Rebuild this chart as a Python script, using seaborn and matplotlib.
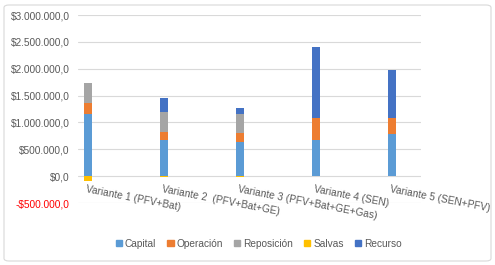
import matplotlib
matplotlib.use("Agg")
import matplotlib.pyplot as plt
import seaborn as sns
import numpy as np
import pandas as pd
from matplotlib.patches import Patch, FancyBboxPatch

categories = ["Variante 1 (PFV+Bat)", "Variante 2  (PFV+Bat+GE)", "Variante 3 (PFV+Bat+GE+Gas)",
              "Variante 4 (SEN)", "Variante 5 (SEN+PFV)"]
capital = [1160000, 680000, 640000, 670000, 790000]
operacion = [200000, 150000, 160000, 420000, 290000]
reposicion = [370000, 370000, 350000, 0, 0]
salvas = [-90000, -20000, -20000, 0, 0]
recurso = [0, 250000, 120000, 1310000, 890000]
yticks = [-500000, 0, 500000, 1000000, 1500000, 2000000, 2500000, 3000000]

colors = {"Capital": "#5B9BD5", "Operación": "#ED7D31", "Reposición": "#A5A5A5",
          "Salvas": "#FFC000", "Recurso": "#4472C4"}

sns.set_theme(style="white")
plt.rcParams['font.family'] = ['Liberation Sans', 'DejaVu Sans']

fig = plt.figure(figsize=(4.95, 2.65), dpi=100)
ax = fig.add_axes([78/495, 1-203/265, (421-78)/495, (203-15)/265])

df = pd.DataFrame({"cat": categories, "Capital": capital, "Operación": operacion,
                   "Reposición": reposicion, "Salvas": salvas, "Recurso": recurso})

bottom = np.zeros(len(categories))
for name in ["Capital", "Operación", "Reposición", "Recurso"]:
    vals = np.array(df[name], dtype=float)
    sns.barplot(data=df, x="cat", y=name, ax=ax, color=colors[name], width=0.11,
                bottom=bottom, saturation=1, linewidth=0, errorbar=None)
    bottom = bottom + vals
sns.barplot(data=df, x="cat", y="Salvas", ax=ax, color=colors["Salvas"], width=0.11,
            saturation=1, linewidth=0, errorbar=None)

ax.set_xlim(-0.13, 4.38)
ax.set_ylim(-500000, 3000000)
ax.set_yticks(yticks)

def fmt(v):
    s = f"{abs(v):,.1f}".replace(",", "X").replace(".", ",").replace("X", ".")
    return ("-$" if v < 0 else "$") + s

ax.set_yticklabels([fmt(v) for v in yticks], fontsize=7.3, color="#595959")
for lab, v in zip(ax.get_yticklabels(), yticks):
    if v < 0:
        lab.set_color("#FF0000")
ax.tick_params(axis="y", length=0, pad=6)
ax.grid(axis="y", color="#D9D9D9", linewidth=0.8)
ax.set_axisbelow(True)
for s in ax.spines.values():
    s.set_visible(False)
ax.set_xlabel("")
ax.set_ylabel("")
ax.set_xticks([])

for i, c in enumerate(categories):
    ax.text(i - 0.01, -150000, c, rotation=-11, rotation_mode="anchor", ha="left", va="top",
            fontsize=7.3, color="#595959")

handles = [Patch(color=colors[n], label=n) for n in ["Capital", "Operación", "Reposición", "Salvas", "Recurso"]]
fig.legend(handles=handles, loc="center", bbox_to_anchor=(0.523, 0.081), ncol=5, frameon=False,
           fontsize=7.3, handlelength=0.6, handleheight=0.6, handletextpad=0.3, columnspacing=1.1,
           labelcolor="#595959")

border = FancyBboxPatch((4/495, 4/265), 487/495, 256/265, boxstyle="round,pad=0,rounding_size=0.01",
                        transform=fig.transFigure, fill=False, edgecolor="#D9D9D9", linewidth=0.8)
fig.patches.append(border)

fig.savefig("out.png", dpi=100, facecolor="white")
